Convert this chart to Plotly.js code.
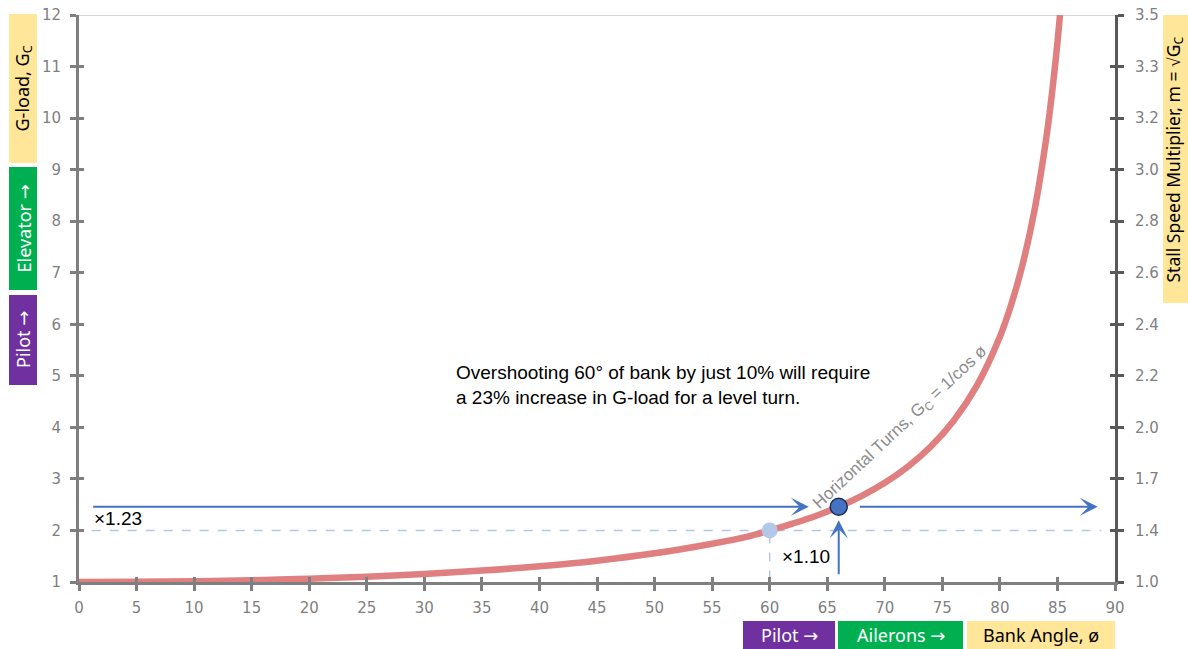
<!DOCTYPE html>
<html><head><meta charset="utf-8">
<script src="https://cdn.plot.ly/plotly-3.0.1.min.js"></script>
<style>html,body{margin:0;padding:0;background:#fff}#chart{width:1188px;height:649px}</style>
</head><body><div id="chart"></div>
<script>
// Data
const bankAngle = [0, 5, 10, 15, 20, 25, 30, 35, 40, 45, 50, 55, 58, 60, 62, 64, 66, 68, 70, 72, 74, 76, 78, 80, 81, 82, 83, 84, 84.5, 85, 85.22];
const gLoad     = [1, 1.004, 1.015, 1.035, 1.064, 1.103, 1.155, 1.221, 1.305, 1.414, 1.556, 1.743, 1.877, 2.0, 2.134, 2.281, 2.459, 2.669, 2.924, 3.236, 3.628, 4.134, 4.810, 5.759, 6.392, 7.185, 8.206, 9.567, 10.43, 11.47, 12];
const leftTicks = [1, 2, 3, 4, 5, 6, 7, 8, 9, 10, 11, 12];
const rightTickLabels = ["1.0", "1.4", "1.7", "2.0", "2.2", "2.4", "2.6", "2.8", "3.0", "3.2", "3.3", "3.5"];
const xTicks = [0, 5, 10, 15, 20, 25, 30, 35, 40, 45, 50, 55, 60, 65, 70, 75, 80, 85, 90];
const basePoint = {x: 60, y: 2.0};
const overPoint = {x: 66, y: 2.46};
const arrowLeft = {x0: 1.1, x1: 63.4};
const arrowRight = {x0: 67.7, x1: 88.5};
const arrowUp = {y0: 1.12, y1: 2.2};
const dashedEnd = 88.8;

// layout helpers (pixel → paper)
const L = 79, R = 1115, T = 15, B = 582;
const px = v => (v - L) / (R - L);
const py = v => (B - v) / (B - T);

const traces = [
  {x: bankAngle, y: gLoad, mode: 'lines', line: {color: '#E07F80', width: 6.5, shape: 'spline'}, hoverinfo: 'skip', xaxis: 'x', yaxis: 'y'},
  {x: [basePoint.x], y: [basePoint.y], mode: 'markers', marker: {color: '#B4C7E7', size: 16}, hoverinfo: 'skip'},
  {x: [overPoint.x], y: [overPoint.y], mode: 'markers', marker: {color: '#4472C4', size: 17, line: {color: '#1F2D4D', width: 1.5}}, hoverinfo: 'skip'},
  {x: [0], y: [1], mode: 'markers', marker: {opacity: 0}, xaxis: 'x', yaxis: 'y2', hoverinfo: 'skip'},
  {x: [0], y: [1], mode: 'markers', marker: {opacity: 0}, xaxis: 'x2', yaxis: 'y3', hoverinfo: 'skip'},
  {x: [0], y: [1], mode: 'markers', marker: {opacity: 0}, xaxis: 'x2', yaxis: 'y4', hoverinfo: 'skip'}
];

const tickFont = {family: 'DejaVu Sans', size: 15, color: '#7F7F7F'};
const blue = '#4472C4';

const shapes = [
  {type: 'line', xref: 'x', yref: 'y', x0: 0, x1: 90, y0: 12, y1: 12, line: {color: '#C8C8C8', width: 1.5}, layer: 'below'},
  {type: 'line', xref: 'x', yref: 'y', x0: arrowLeft.x0, x1: dashedEnd, y0: basePoint.y, y1: basePoint.y, line: {color: '#B4C7E7', width: 1.5, dash: 'dash'}, layer: 'below'},
  {type: 'line', xref: 'x', yref: 'y', x0: basePoint.x, x1: basePoint.x, y0: 1.05, y1: basePoint.y, line: {color: '#B4C7E7', width: 1.5, dash: 'dash'}, layer: 'below'},
  {type: 'rect', xref: 'paper', yref: 'paper', x0: px(9), x1: px(37), y0: py(163), y1: py(14), fillcolor: '#FFE699', line: {width: 0}},
  {type: 'rect', xref: 'paper', yref: 'paper', x0: px(9), x1: px(37), y0: py(290), y1: py(167), fillcolor: '#00B050', line: {width: 0}},
  {type: 'rect', xref: 'paper', yref: 'paper', x0: px(9), x1: px(37), y0: py(385), y1: py(295), fillcolor: '#7030A0', line: {width: 0}},
  {type: 'rect', xref: 'paper', yref: 'paper', x0: px(1163), x1: px(1190), y0: py(303), y1: py(15), fillcolor: '#FFE699', line: {width: 0}},
  {type: 'rect', xref: 'paper', yref: 'paper', x0: px(743), x1: px(835), y0: py(652), y1: py(621), fillcolor: '#7030A0', line: {width: 0}},
  {type: 'rect', xref: 'paper', yref: 'paper', x0: px(838), x1: px(963), y0: py(652), y1: py(621), fillcolor: '#00B050', line: {width: 0}},
  {type: 'rect', xref: 'paper', yref: 'paper', x0: px(967), x1: px(1115), y0: py(652), y1: py(621), fillcolor: '#FFE699', line: {width: 0}}
];

const ARR = '<span style="font-family:DejaVu Sans">→</span>';
const boxFont = (c, s) => ({family: 'Noto Sans', size: s || 18, color: c});
const boxLabel = (x, y, text, color, angle, size) => ({x: px(x), y: py(y), xref: 'paper', yref: 'paper', text: text, showarrow: false,
  xanchor: 'center', yanchor: 'middle', textangle: angle || 0, font: boxFont(color, size)});
const arrow = (x, y, ax, ay) => ({x: x, y: y, ax: ax, ay: ay, xref: 'x', yref: 'y', axref: 'x', ayref: 'y', text: '', showarrow: true,
  arrowhead: 3, arrowsize: 1.5, arrowwidth: 2, arrowcolor: blue});

const annotations = [
  arrow(arrowLeft.x1, overPoint.y, arrowLeft.x0, overPoint.y),
  arrow(arrowRight.x1, overPoint.y, arrowRight.x0, overPoint.y),
  arrow(overPoint.x, arrowUp.y1, overPoint.x, arrowUp.y0),
  {x: 1.1, y: 2.24, xref: 'x', yref: 'y', text: '×1.23', showarrow: false, xanchor: 'left', yanchor: 'middle', font: {family: 'Liberation Sans', size: 19, color: '#000'}},
  {x: 60.9, y: 1.49, xref: 'x', yref: 'y', text: '×1.10', showarrow: false, xanchor: 'left', yanchor: 'middle', font: {family: 'Liberation Sans', size: 19, color: '#000'}},
  {x: 32.6, y: 4.82, xref: 'x', yref: 'y', text: 'Overshooting 60° of bank by just 10% will require<br>a 23% increase in G-load for a level turn.', showarrow: false, xanchor: 'left', yanchor: 'middle', align: 'left', font: {family: 'Liberation Sans', size: 19, color: '#000'}},
  {x: 71.4, y: 3.98, xref: 'x', yref: 'y', text: 'Horizontal Turns, G<sub>C</sub> = 1/cos ø', showarrow: false, xanchor: 'center', yanchor: 'middle', textangle: -43, font: {family: 'Liberation Sans', size: 17, color: '#8C8C8C'}},
  boxLabel(23, 88.5, 'G-load, G<sub>C</sub>', '#000', -90),
  boxLabel(23, 228.5, 'Elevator ' + ARR, '#fff', -90),
  boxLabel(23, 340, 'Pilot ' + ARR, '#fff', -90),
  boxLabel(1173.5, 160, 'Stall Speed Multiplier, m = √G<sub>C</sub>', '#000', -90, 17.5),
  boxLabel(789, 635, 'Pilot ' + ARR, '#fff'),
  boxLabel(900.5, 635, 'Ailerons ' + ARR, '#fff'),
  boxLabel(1041, 635, 'Bank Angle, ø', '#000')
];

const layout = {
  width: 1188, height: 649,
  margin: {l: L, r: 1188 - R, t: T, b: 649 - B},
  paper_bgcolor: '#fff', plot_bgcolor: '#fff',
  showlegend: false,
  xaxis: {range: [0, 90], tickvals: xTicks, showgrid: false, zeroline: false, showline: true, linecolor: '#7F7F7F', linewidth: 3,
          ticks: 'outside', ticklen: 6, tickwidth: 3, tickcolor: '#7F7F7F', tickfont: tickFont, ticklabelstandoff: 4},
  xaxis2: {range: [0, 90], overlaying: 'x', tickvals: xTicks, showgrid: false, zeroline: false, showline: false, ticks: 'inside', ticklen: 5, tickwidth: 3,
           tickcolor: '#7F7F7F', showticklabels: false, anchor: 'y', side: 'bottom'},
  yaxis: {range: [1, 12], tickvals: leftTicks, showgrid: false, zeroline: false, showline: true, linecolor: '#7F7F7F', linewidth: 3,
          ticks: 'outside', ticklen: 6, tickwidth: 3, tickcolor: '#7F7F7F', tickfont: tickFont, ticklabelstandoff: 6},
  yaxis2: {range: [1, 12], overlaying: 'y', side: 'right', tickvals: leftTicks, ticktext: rightTickLabels, showgrid: false, zeroline: false,
           showline: true, linecolor: '#595959', linewidth: 3, ticks: 'outside', ticklen: 6, tickwidth: 3, tickcolor: '#595959', tickfont: tickFont, ticklabelstandoff: 8},
  yaxis3: {range: [1, 12], overlaying: 'y', side: 'left', anchor: 'x2', tickvals: leftTicks, showgrid: false, zeroline: false, showline: false,
           ticks: 'inside', ticklen: 5, tickwidth: 3, tickcolor: '#7F7F7F', showticklabels: false},
  yaxis4: {range: [1, 12], overlaying: 'y', side: 'right', anchor: 'x2', tickvals: leftTicks, showgrid: false, zeroline: false, showline: false,
           ticks: 'inside', ticklen: 5, tickwidth: 3, tickcolor: '#595959', showticklabels: false},
  shapes: shapes,
  annotations: annotations
};

Plotly.newPlot('chart', traces, layout, {displayModeBar: false, staticPlot: true});
</script></body></html>
